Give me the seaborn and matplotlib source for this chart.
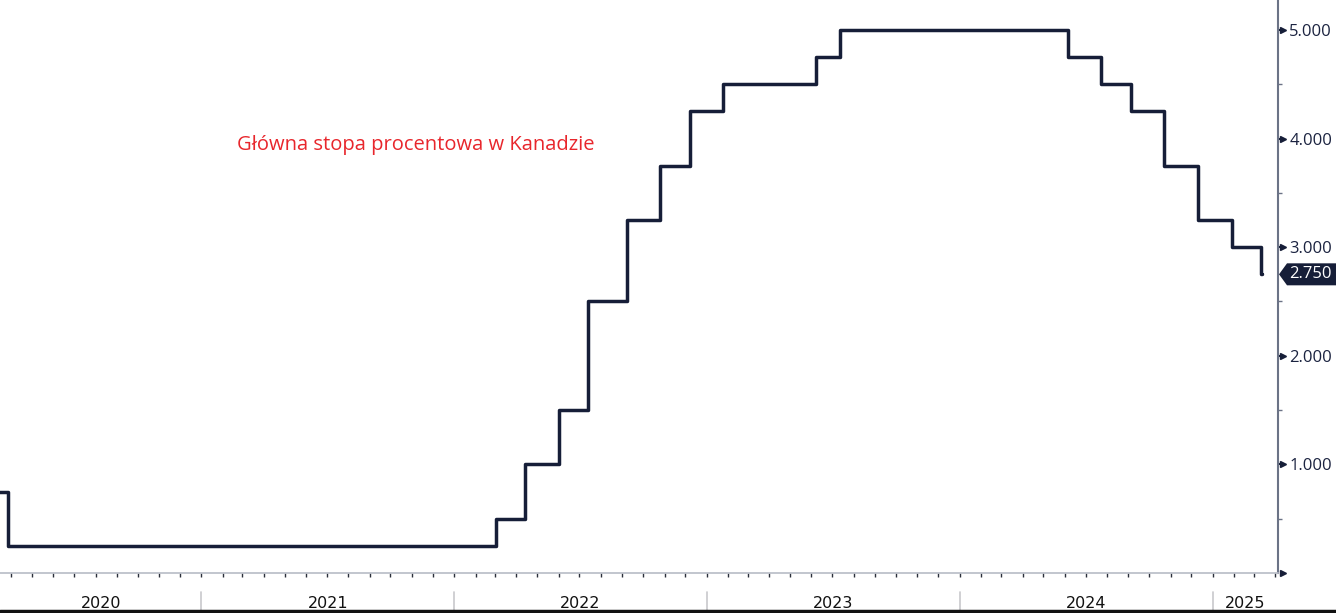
import pandas as pd
import numpy as np
import matplotlib
matplotlib.use('Agg')
import matplotlib.pyplot as plt
import matplotlib.dates as mdates
import matplotlib.transforms as mtransforms
from matplotlib.patches import Polygon
import seaborn as sns

# decyzje Banku Kanady: data zmiany i nowa stopa
change_dates = ['2020-03-13', '2020-03-27', '2022-03-02', '2022-04-13', '2022-06-01',
                '2022-07-13', '2022-09-07', '2022-10-26', '2022-12-07', '2023-01-25',
                '2023-06-07', '2023-07-12', '2024-06-05', '2024-07-24', '2024-09-04',
                '2024-10-23', '2024-12-11', '2025-01-29', '2025-03-12']
rates = [0.75, 0.25, 0.50, 1.00, 1.50, 2.50, 3.25, 3.75, 4.25, 4.50,
         4.75, 5.00, 4.75, 4.50, 4.25, 3.75, 3.25, 3.00, 2.75]
last_date = '2025-03-13'
years = [2020, 2021, 2022, 2023, 2024, 2025]
y_ticks = [1.0, 2.0, 3.0, 4.0, 5.0]
title = 'Główna stopa procentowa w Kanadzie'

df = pd.DataFrame({'date': pd.to_datetime(change_dates + [last_date]),
                   'rate': rates + [rates[-1]]})

sns.set_style('white')
plt.rcParams['font.family'] = ['Open Sans', 'DejaVu Sans']

line_col = '#161e38'
axis_col = '#6b7386'

fig = plt.figure(figsize=(13.36, 6.13), dpi=100)
ax = fig.add_axes([0.0, 0.0653, 0.9566, 0.9347])

sns.lineplot(data=df, x='date', y='rate', drawstyle='steps-post', color=line_col,
             linewidth=2.5, ax=ax)

x0 = pd.Timestamp('2020-03-16')
x1 = pd.Timestamp('2025-04-05')
ax.set_xlim(x0, x1)
ax.set_ylim(0, 5.276)
ax.set_xlabel('')
ax.set_ylabel('')

# oś y po prawej
ax.yaxis.tick_right()
ax.set_yticks(y_ticks)
ax.set_yticklabels(['%.3f' % v for v in y_ticks], color='#1b2340', fontsize=12)
ax.set_yticks(np.arange(0.5, 5.2, 1.0), minor=True)
ax.tick_params(axis='y', which='major', length=4, width=1.5, color=line_col, pad=4, right=True, left=False)
ax.tick_params(axis='y', which='minor', length=3, width=1, color=axis_col, right=True, left=False)
for s in ['top', 'left']:
    ax.spines[s].set_visible(False)
ax.spines['right'].set_color(axis_col)
ax.spines['right'].set_linewidth(1.5)
ax.spines['bottom'].set_color('#b8bcc6')
ax.spines['bottom'].set_linewidth(1.2)

yt = mtransforms.blended_transform_factory(ax.transAxes, ax.transData)
for v in y_ticks:
    ax.plot([1.004], [v], marker='>', markersize=4, color=line_col, transform=yt, clip_on=False)

# znaczniki miesięcy
ax.xaxis.set_major_locator(mdates.MonthLocator())
ax.xaxis.set_major_formatter(plt.NullFormatter())
ax.tick_params(axis='x', which='major', length=3, width=1, color='#2a2f3a', direction='out', bottom=True)

# grot na dole osi
ax.plot([1.004], [0], marker='>', markersize=5, color=line_col, transform=ax.transAxes, clip_on=False)

# etykiety lat i separatory
trans = mtransforms.blended_transform_factory(ax.transData, ax.transAxes)
for yr in years:
    start = max(pd.Timestamp(f'{yr}-01-01'), x0)
    end = min(pd.Timestamp(f'{yr + 1}-01-01'), x1)
    mid = start + (end - start) / 2
    ax.text(mid, -0.054, str(yr), transform=trans, ha='center', va='center',
            fontsize=11.5, color='#111111', family=['DejaVu Sans'])
    if yr > years[0]:
        ax.plot([pd.Timestamp(f'{yr}-01-01')] * 2, [-0.034, -0.068], transform=trans,
                color='#c8c8cc', linewidth=1.2, clip_on=False)

# czarna linia na samym dole
fig.add_artist(plt.Line2D([0, 1], [0.003, 0.003], color='#111111', linewidth=2.5, transform=fig.transFigure))

# etykieta ostatniej wartości (ramka ze strzałką)
fig.canvas.draw()
yd = ax.transData.transform((0, rates[-1]))[1]
xr = ax.transAxes.transform((1, 0))[0]
box = Polygon([[xr + 1, yd], [xr + 9, yd + 11], [1336, yd + 11], [1336, yd - 11], [xr + 9, yd - 11]],
              closed=True, facecolor=line_col, edgecolor='none',
              transform=mtransforms.IdentityTransform())
fig.add_artist(box)
fig.text((xr + 11) / 1336, yd / 613, '%.3f' % rates[-1], ha='left', va='center',
         color='white', fontsize=12, family=['Open Sans'])

fig.text(237 / 1336, 1 - 145 / 613, title, color='#e8262c', fontsize=14.5, ha='left', va='center')

plt.savefig('out.png', dpi=100)
